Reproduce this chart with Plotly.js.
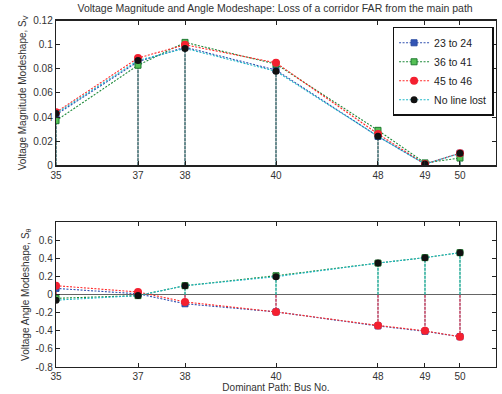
<!DOCTYPE html>
<html><head><meta charset="utf-8">
<script src="https://cdn.plot.ly/plotly-3.0.1.min.js"></script>
<style>html,body{margin:0;padding:0;background:#fff}#chart{width:502px;height:394px}</style>
</head><body><div id="chart"></div>
<script>
// Buses along the dominant path and their relative positions on the axis
const busLabels = ['35','37','38','40','48','49','50'];
const busPosition = [0, 82, 129, 220, 322, 369, 404];

const seriesNames = ['23 to 24','36 to 41','45 to 46','No line lost'];

// Voltage magnitude modeshape S_V
const sv_23_24 = [0.042, 0.086, 0.098, 0.079, 0.024, 0.001, 0.010];
const sv_36_41 = [0.037, 0.083, 0.102, 0.084, 0.029, 0.002, 0.006];
const sv_45_46 = [0.044, 0.089, 0.100, 0.085, 0.026, 0.001, 0.010];
const sv_none  = [0.043, 0.087, 0.097, 0.078, 0.024, 0.001, 0.010];

// Voltage angle modeshape S_theta
const sa_23_24 = [0.07, 0.01, -0.10, -0.19, -0.345, -0.405, -0.465];
const sa_36_41 = [-0.04, -0.01, 0.10, 0.21, 0.35, 0.41, 0.465];
const sa_45_46 = [0.10, 0.03, -0.08, -0.19, -0.34, -0.40, -0.465];
const sa_none  = [-0.06, -0.01, 0.10, 0.20, 0.35, 0.41, 0.465];

const styles = [
  {line:'#3050b0', marker:{symbol:'square', size:6, color:'#3355b5', line:{color:'#2a4aa0', width:1}}},
  {line:'#1e8a3a', marker:{symbol:'square', size:6, color:'#55c055', line:{color:'#1e7a30', width:1}}},
  {line:'#ff2a2a', marker:{symbol:'circle', size:8, color:'#f42030', line:{color:'#f42030', width:0}}},
  {line:'#20b8c8', marker:{symbol:'circle', size:7, color:'#111', line:{color:'#111', width:0}}}
];

function stemXY(vals){
  const xs=[], ys=[];
  vals.forEach((v,i)=>{xs.push(busPosition[i],busPosition[i],null); ys.push(0,v,null);});
  return {xs, ys};
}

const traces = [];
function addSet(sets, xa, ya, legend){
  sets.forEach((vals,k)=>{
    const s = stemXY(vals);
    traces.push({x:s.xs, y:s.ys, xaxis:xa, yaxis:ya, mode:'lines', showlegend:false, hoverinfo:'skip', opacity:0.75,
      line:{color:styles[k].line, width:1.3, dash:'3px,1px'}});
  });
  sets.forEach((vals,k)=>{
    traces.push({x:busPosition, y:vals, xaxis:xa, yaxis:ya, mode:'lines+markers', name:seriesNames[k],
      showlegend:legend, line:{color:styles[k].line, width:1.1, dash:'2px,1.5px'}, marker:styles[k].marker});
  });
}
addSet([sv_23_24, sv_36_41, sv_45_46, sv_none], 'x', 'y', true);
addSet([sa_23_24, sa_36_41, sa_45_46, sa_none], 'x2', 'y2', false);

const tickFont = {family:'Liberation Sans, Arial, sans-serif', size:10, color:'#333'};
const axisCommon = {showline:true, linecolor:'#222', linewidth:1.3, mirror:'ticks', ticks:'inside', ticklen:4,
  tickcolor:'#222', showgrid:false, zeroline:false, tickfont:tickFont};

const layout = {
  width:502, height:394,
  margin:{l:0, r:0, t:0, b:0},
  paper_bgcolor:'#fff', plot_bgcolor:'#fff',
  font:{family:'Liberation Sans, Arial, sans-serif', color:'#333'},
  title:{text:'Voltage Magnitude and Angle Modeshape: Loss of a corridor FAR from the main path',
    font:{size:10.5, color:'#333'}, x:0.548, xanchor:'center', yref:'container', y:0.978, yanchor:'middle'},
  xaxis:Object.assign({}, axisCommon, {domain:[0.1116, 0.988], range:[0, 440], tickvals:busPosition, ticktext:busLabels, anchor:'y'}),
  yaxis:Object.assign({}, axisCommon, {domain:[0.5805, 0.9475], range:[0, 0.12], tickvals:[0,0.02,0.04,0.06,0.08,0.1,0.12],
    ticktext:['0','0.02','0.04','0.06','0.08','0.1','0.12'], anchor:'x',
    title:{text:'Voltage Magnitude Modeshape, S<sub>V</sub>', font:{size:10, color:'#333'}, standoff:4}}),
  xaxis2:Object.assign({}, axisCommon, {domain:[0.1116, 0.988], range:[0, 440], tickvals:busPosition, ticktext:busLabels, anchor:'y2',
    title:{text:'Dominant Path: Bus No.', font:{size:10, color:'#333'}, standoff:2}}),
  yaxis2:Object.assign({}, axisCommon, {domain:[0.0685, 0.4355], range:[-0.8, 0.8], tickvals:[-0.8,-0.6,-0.4,-0.2,0,0.2,0.4,0.6],
    ticktext:['-0.8','-0.6','-0.4','-0.2','0','0.2','0.4','0.6'], anchor:'x2',
    zeroline:true, zerolinecolor:'#666', zerolinewidth:1.3,
    title:{text:'Voltage Angle Modeshape, S<sub>θ</sub>', font:{size:10, color:'#333'}, standoff:4}}),
  legend:{x:0.782, y:0.932, xanchor:'left', yanchor:'top', bordercolor:'#111', borderwidth:1.5, bgcolor:'#fff',
    font:{size:10.5, color:'#222'}, tracegroupgap:0, itemwidth:30},
  showlegend:true
};

Plotly.newPlot('chart', traces, layout, {displayModeBar:false, staticPlot:true});
</script></body></html>
